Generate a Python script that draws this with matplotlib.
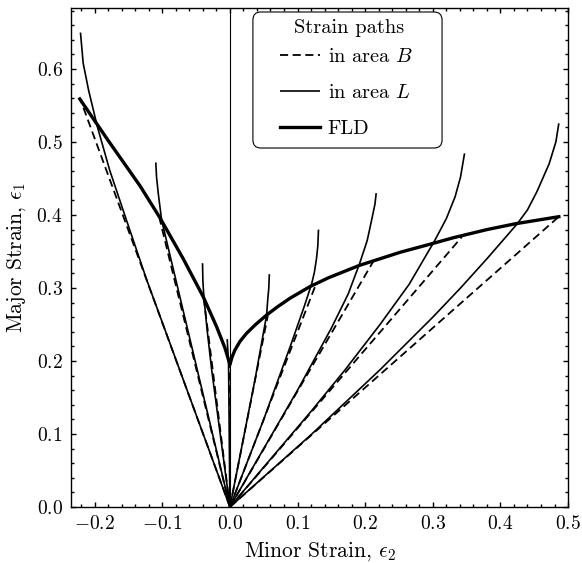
import matplotlib
matplotlib.use("Agg")
import matplotlib.pyplot as plt
from matplotlib.ticker import MultipleLocator
from matplotlib.patches import FancyBboxPatch

plt.rcParams['font.family'] = ['cmr10', 'DejaVu Serif']
plt.rcParams['mathtext.fontset'] = 'cm'
plt.rcParams['axes.formatter.use_mathtext'] = True
plt.rcParams['axes.unicode_minus'] = True

# FLD curve (minor strain e2, major strain e1)
fld_e2 = [-0.222, -0.18, -0.133, -0.104, -0.069, -0.0395, -0.0197, -0.0074, -0.0025, 0.0,
          0.003, 0.0074, 0.015, 0.0247, 0.038, 0.0543, 0.07, 0.0889, 0.1185, 0.1457,
          0.1916, 0.252, 0.296, 0.331, 0.380, 0.422, 0.4864]
fld_e1 = [0.559, 0.502, 0.440, 0.397, 0.340, 0.288, 0.247, 0.218, 0.203, 0.195,
          0.205, 0.215, 0.227, 0.238, 0.250, 0.263, 0.274, 0.286, 0.302, 0.314,
          0.331, 0.349, 0.360, 0.369, 0.380, 0.388, 0.3977]

# Strain paths in area B (straight lines to the FLD), end points
b_end_e2 = [-0.221, -0.104, -0.039, 0.0, 0.056, 0.128, 0.213, 0.343, 0.4864]
b_end_e1 = [0.558, 0.395, 0.288, 0.196, 0.262, 0.307, 0.338, 0.370, 0.3977]

# Strain paths in area L (necking region)
l1_e2 = [0.0, -0.123, -0.153, -0.178, -0.196, -0.209, -0.217, -0.221]
l1_e1 = [0.0, 0.311, 0.393, 0.462, 0.521, 0.571, 0.608, 0.650]
l2_e2 = [0.0, -0.101, -0.106, -0.1085, -0.1096]
l2_e1 = [0.0, 0.393, 0.430, 0.452, 0.472]
l3_e2 = [0.0, -0.027, -0.034, -0.0385, -0.0400, -0.0405]
l3_e1 = [0.0, 0.188, 0.245, 0.288, 0.310, 0.334]
l4_e2 = [0.0, -0.002, -0.004]
l4_e1 = [0.0, 0.196, 0.230]
l5_e2 = [0.0, 0.037, 0.0543, 0.056, 0.0575, 0.0583]
l5_e1 = [0.0, 0.174, 0.263, 0.285, 0.300, 0.319]
l6_e2 = [0.0, 0.05, 0.09, 0.110, 0.121, 0.125, 0.128, 0.130, 0.131]
l6_e1 = [0.0, 0.120, 0.222, 0.275, 0.306, 0.322, 0.340, 0.358, 0.380]
l7_e2 = [0.0, 0.10, 0.15, 0.175, 0.1916, 0.203, 0.210, 0.2145, 0.2163]
l7_e1 = [0.0, 0.160, 0.245, 0.292, 0.333, 0.365, 0.395, 0.415, 0.430]
l8_e2 = [0.0, 0.120, 0.1704, 0.222, 0.265, 0.302, 0.320, 0.333, 0.341, 0.347]
l8_e1 = [0.0, 0.131, 0.188, 0.250, 0.305, 0.3635, 0.395, 0.425, 0.452, 0.4845]
l9_e2 = [0.0, 0.12, 0.222, 0.30, 0.341, 0.38, 0.4247, 0.44, 0.454, 0.472, 0.482, 0.4864]
l9_e1 = [0.0, 0.099, 0.188, 0.260, 0.300, 0.340, 0.3877, 0.407, 0.432, 0.470, 0.500, 0.5256]

l_paths = [(l1_e2, l1_e1), (l2_e2, l2_e1), (l3_e2, l3_e1), (l4_e2, l4_e1),
           (l5_e2, l5_e1), (l6_e2, l6_e1), (l7_e2, l7_e1), (l8_e2, l8_e1),
           (l9_e2, l9_e1)]

legend_title = 'Strain paths'
legend_labels = ['in area $B$', 'in area $L$', 'FLD']

fig = plt.figure(figsize=(5.82, 5.63), dpi=100)
ax = fig.add_axes([0.122, 0.0995, 0.854, 0.8863])

ax.axvline(0.0, color='black', lw=0.8)

for i, (x2, x1) in enumerate(zip(b_end_e2, b_end_e1)):
    ax.plot([0.0, x2], [0.0, x1], color='black', lw=1.3, ls=(0, (4.5, 2.5)),
            label=legend_labels[0] if i == 0 else None)

for i, (x2, x1) in enumerate(l_paths):
    ax.plot(x2, x1, color='black', lw=1.2, solid_capstyle='butt', solid_joinstyle='round',
            label=legend_labels[1] if i == 0 else None)

ax.plot(fld_e2, fld_e1, color='black', lw=2.4, label=legend_labels[2], solid_joinstyle='round')

ax.set_xlim(-0.235, 0.5)
ax.set_ylim(0.0, 0.6836)
ax.xaxis.set_major_locator(MultipleLocator(0.1))
ax.xaxis.set_minor_locator(MultipleLocator(0.02))
ax.yaxis.set_major_locator(MultipleLocator(0.1))
ax.yaxis.set_minor_locator(MultipleLocator(0.02))
ax.tick_params(which='both', direction='in', top=True, right=True, labelsize=14, width=1.0)
ax.tick_params(which='major', length=3.5, pad=6)
ax.tick_params(which='minor', length=2.0)
for s in ax.spines.values():
    s.set_linewidth(1.0)

ax.set_xlabel(r'Minor Strain, $\epsilon_2$', fontsize=15.5, labelpad=5)
ax.set_ylabel(r'Major Strain, $\epsilon_1$', fontsize=15.5, labelpad=6)

# legend: frame and title drawn separately to match the reference layout
frame = FancyBboxPatch((0.366, 0.7194), 0.3805, 0.2726,
                       boxstyle='round,pad=0,rounding_size=0.016',
                       transform=ax.transAxes, facecolor='white', edgecolor='black',
                       lw=0.8, zorder=5)
ax.add_patch(frame)
ax.text(0.5594, 0.960, legend_title, transform=ax.transAxes, ha='center', va='center',
        fontsize=14.7, zorder=6)
leg = ax.legend(loc='upper center', bbox_to_anchor=(0.554, 0.920),
                fontsize=14.7, frameon=False, handlelength=2.0, borderaxespad=0.0,
                labelspacing=0.86, borderpad=0.0, handletextpad=0.35)
leg.set_zorder(7)

fig.savefig('out.png', dpi=100)
